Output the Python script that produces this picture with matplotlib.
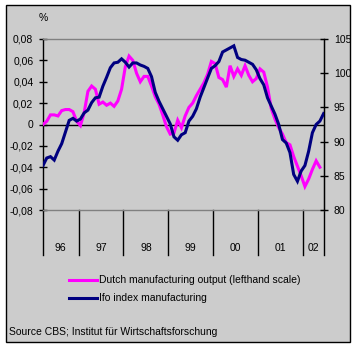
import matplotlib
matplotlib.use("Agg")
import matplotlib.pyplot as plt
from matplotlib.lines import Line2D
from matplotlib.patches import Rectangle
import matplotlib.transforms as mtransforms

plt.rcParams['font.family'] = ['Liberation Sans', 'DejaVu Sans']

# ---- data (monthly, starting March 1996) ----
start_year = 1996
start_month = 3
dutch_output = [
    0.000, 0.003, 0.009, 0.009, 0.008, 0.013, 0.014, 0.014, 0.012, 0.003,
    -0.001, 0.011, 0.031, 0.036, 0.033, 0.019, 0.021, 0.018, 0.020, 0.017,
    0.022, 0.033, 0.054, 0.064, 0.060, 0.048, 0.040, 0.045, 0.045, 0.036,
    0.026, 0.019, 0.009, -0.002, -0.009, -0.008, 0.004, -0.003, 0.008, 0.016,
    0.020, 0.027, 0.033, 0.039, 0.047, 0.059, 0.057, 0.044, 0.042, 0.035,
    0.055, 0.045, 0.052, 0.046, 0.055, 0.046, 0.040, 0.043, 0.052, 0.049,
    0.035, 0.015, 0.005, -0.003, -0.009, -0.017, -0.019, -0.030, -0.039, -0.048,
    -0.058, -0.051, -0.042, -0.034, -0.040,
]
ifo_index = [
    86.5, 87.6, 87.8, 87.3, 88.6, 89.7, 91.4, 93.1, 93.4, 93.0,
    93.3, 94.2, 94.6, 95.7, 96.4, 96.5, 98.1, 99.4, 100.8, 101.5,
    101.6, 102.1, 101.6, 100.9, 101.5, 101.5, 101.2, 101.0, 100.7, 99.5,
    97.2, 95.9, 94.8, 93.7, 92.6, 90.7, 90.2, 91.0, 91.3, 93.0,
    93.7, 94.8, 96.5, 97.9, 99.3, 100.7, 101.1, 101.7, 103.1, 103.4,
    103.7, 104.0, 102.3, 102.0, 101.9, 101.6, 101.3, 100.5, 99.2, 98.3,
    96.4, 95.2, 94.0, 92.5, 90.3, 89.8, 88.4, 85.2, 84.2, 85.7,
    86.5, 88.6, 91.3, 92.5, 93.0, 94.1,
]
year_labels = ['96', '97', '98', '99', '00', '01', '02']
left_ticks = [-0.08, -0.06, -0.04, -0.02, 0.0, 0.02, 0.04, 0.06, 0.08]
left_ticklabels = ['-0,08', '-0,06', '-0,04', '-0,02', '0', '0,02', '0,04', '0,06', '0,08']
right_ticks = [80, 85, 90, 95, 100, 105]
legend_labels = ['Dutch manufacturing output (lefthand scale)', 'Ifo index manufacturing']
source_text = 'Source CBS; Institut f\u00fcr Wirtschaftsforschung'

BG = '#cccccc'
MAGENTA = '#ff00ff'
NAVY = '#000080'
FS = 7.5

W, H = 356, 347
fig = plt.figure(figsize=(W / 100, H / 100), dpi=100)
fig.patch.set_facecolor('white')

# outer chart frame
fig.patches.append(Rectangle((6 / W, 1 - 342 / H), 344 / W, 337 / H,
                             transform=fig.transFigure, facecolor=BG,
                             edgecolor='black', lw=1.0, zorder=-10))

ax = fig.add_axes([43 / W, 1 - 210 / H, (324 - 43) / W, (210 - 39) / H])
ax.patch.set_visible(False)

n_months = len(ifo_index)
x_ifo = list(range(n_months))
x_dutch = list(range(len(dutch_output)))
xmax = 75.1
ax.set_xlim(0, xmax)
ax.set_ylim(-0.08, 0.08)

ax.axhline(0, color='black', lw=1.0, zorder=2)
ax.plot(x_dutch, dutch_output, color=MAGENTA, lw=2.2, zorder=3, solid_joinstyle='miter')

ax.set_yticks(left_ticks)
ax.set_yticklabels(left_ticklabels, fontsize=FS)
ax.set_xticks([])
ax.tick_params(axis='y', direction='inout', length=6, width=1, color='black', pad=4)

for s in ['top', 'bottom']:
    ax.spines[s].set_color('#808080')
    ax.spines[s].set_linewidth(1)
for s in ['left', 'right']:
    ax.spines[s].set_color('black')
    ax.spines[s].set_linewidth(1)

ax2 = ax.twinx()
ax2.patch.set_visible(False)
ax2.set_ylim(80, 105)
ax2.set_yticks(right_ticks)
ax2.set_yticklabels([str(t) for t in right_ticks], fontsize=FS)
ax2.tick_params(axis='y', direction='inout', length=6, width=1, color='black', pad=4)
ax2.plot(x_ifo, ifo_index, color=NAVY, lw=2.2, zorder=4, solid_joinstyle='miter')
for s in ['top', 'bottom', 'left']:
    ax2.spines[s].set_visible(False)
ax2.spines['right'].set_color('black')

# year separators below the plot
trans = mtransforms.blended_transform_factory(ax.transData, ax.transAxes)
below = -(255 - 210) / (210 - 39)
bounds = [0]
for k in range(1, len(year_labels)):
    jan_index = (12 - start_month + 1) + 12 * (k - 1)
    bounds.append(jan_index - 0.5)
bounds.append(xmax)
for b in bounds:
    ax.add_line(Line2D([b, b], [0, below], transform=trans, color='black',
                       lw=1.0, clip_on=False))
label_y = -(248 - 210) / (210 - 39)
for k, lab in enumerate(year_labels):
    ax.text((bounds[k] + bounds[k + 1]) / 2, label_y, lab, transform=trans,
            ha='center', va='center', fontsize=FS)

# % label
fig.text(43 / W, 1 - 18 / H, '%', ha='center', va='center', fontsize=FS)

# legend
for yy, col, lab in [(280, MAGENTA, legend_labels[0]), (298, NAVY, legend_labels[1])]:
    fig.lines.append(Line2D([69 / W, 97 / W], [1 - yy / H, 1 - yy / H],
                            transform=fig.transFigure, color=col, lw=2.2))
    fig.text(99 / W, 1 - yy / H, lab, ha='left', va='center', fontsize=FS)

fig.text(9 / W, 1 - 332 / H, source_text, ha='left', va='center', fontsize=FS)

fig.savefig('out.png', dpi=100, facecolor='white')
